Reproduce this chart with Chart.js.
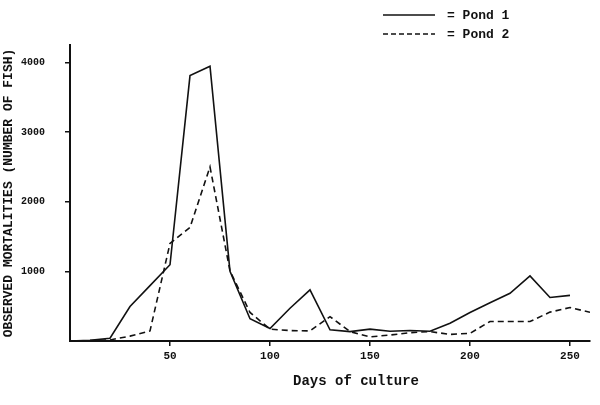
<!DOCTYPE html>
<html>
<head>
<meta charset="utf-8">
<script src="https://cdn.jsdelivr.net/npm/chart.js@4/dist/chart.umd.min.js"></script>
<style>
  body { margin: 0; background: #fff; }
  canvas { display: block; }
</style>
</head>
<body>
<canvas id="grafico" width="600" height="405"></canvas>
<script>
const dias1 = [0, 10, 20, 30, 40, 50, 60, 70, 80, 90, 100, 110, 120, 130, 140, 150, 160, 170, 180, 190, 200, 210, 220, 230, 240, 250];
const pond1 = [0, 10, 40, 495, 795, 1095, 3810, 3945, 1000, 320, 180, 470, 735, 160, 135, 170, 140, 150, 140, 255, 410, 550, 685, 935, 625, 655];

const dias2 = [0, 10, 20, 30, 40, 50, 60, 70, 80, 90, 100, 110, 120, 130, 140, 150, 160, 170, 180, 190, 200, 210, 220, 230, 240, 250, 260];
const pond2 = [0, 5, 15, 70, 145, 1400, 1630, 2500, 1005, 410, 170, 150, 145, 350, 135, 60, 85, 120, 135, 95, 110, 280, 280, 280, 415, 480, 413];

const xTicks = [50, 100, 150, 200, 250];
const yTicks = [1000, 2000, 3000, 4000];

const tinta = "#111";
const fuente = "'Liberation Mono', 'DejaVu Sans Mono', monospace";

function puntos(dias, valores) {
  return dias.map((d, i) => ({ x: d, y: valores[i] }));
}

// leyenda y titulo del eje x, dibujados a mano
const extras = {
  id: "extras",
  afterDraw(chart) {
    const ctx = chart.ctx;
    ctx.save();
    ctx.strokeStyle = tinta;
    ctx.fillStyle = tinta;
    ctx.lineWidth = 1.3;

    const filas = [
      { texto: "= Pond 1", dash: [], y: 15 },
      { texto: "= Pond 2", dash: [5, 3], y: 34 }
    ];
    ctx.font = "bold 13px " + fuente;
    ctx.textBaseline = "middle";
    filas.forEach(f => {
      ctx.setLineDash(f.dash);
      ctx.beginPath();
      ctx.moveTo(383, f.y);
      ctx.lineTo(435, f.y);
      ctx.stroke();
      ctx.setLineDash([]);
      ctx.fillText(f.texto, 447, f.y + 1);
    });

    ctx.font = "bold 14px " + fuente;
    ctx.textAlign = "left";
    ctx.fillText("Days of culture", 293, 381);
    ctx.restore();
  }
};

new Chart(document.getElementById("grafico"), {
  type: "line",
  data: {
    datasets: [
      {
        label: "Pond 1",
        data: puntos(dias1, pond1),
        borderColor: tinta,
        borderWidth: 1.6,
        pointRadius: 0,
        tension: 0
      },
      {
        label: "Pond 2",
        data: puntos(dias2, pond2),
        borderColor: tinta,
        borderWidth: 1.6,
        borderDash: [6, 4],
        pointRadius: 0,
        tension: 0
      }
    ]
  },
  options: {
    responsive: false,
    animation: false,
    layout: { padding: { top: 45, right: 10, left: 0, bottom: 0 } },
    plugins: {
      legend: { display: false },
      tooltip: { enabled: false }
    },
    scales: {
      x: {
        type: "linear",
        min: 0,
        max: 260,
        afterFit: s => { s.height = 64; },
        afterBuildTicks: s => { s.ticks = xTicks.map(v => ({ value: v })); },
        border: { display: true, color: tinta, width: 2 },
        grid: { drawOnChartArea: false, drawTicks: true, tickLength: 5, color: tinta, lineWidth: 1.5 },
        ticks: {
          color: tinta,
          padding: 4,
          maxRotation: 0,
          callback: v => String(v),
          font: { family: fuente, size: 11, weight: "bold" }
        }
      },
      y: {
        min: 0,
        max: 4250,
        afterFit: s => { s.width = 70; },
        afterBuildTicks: s => { s.ticks = yTicks.map(v => ({ value: v })); },
        border: { display: true, color: tinta, width: 2 },
        grid: { drawOnChartArea: false, drawTicks: true, tickLength: 5, color: tinta, lineWidth: 1.5 },
        ticks: {
          color: tinta,
          padding: 20,
          callback: v => String(v),
          font: { family: fuente, size: 10, weight: "bold" }
        },
        title: {
          display: true,
          text: "OBSERVED MORTALITIES (NUMBER OF FISH)",
          color: tinta,
          padding: { top: 1, bottom: 0 },
          font: { family: fuente, size: 13, weight: "bold" }
        }
      }
    }
  },
  plugins: [extras]
});
</script>
</body>
</html>
